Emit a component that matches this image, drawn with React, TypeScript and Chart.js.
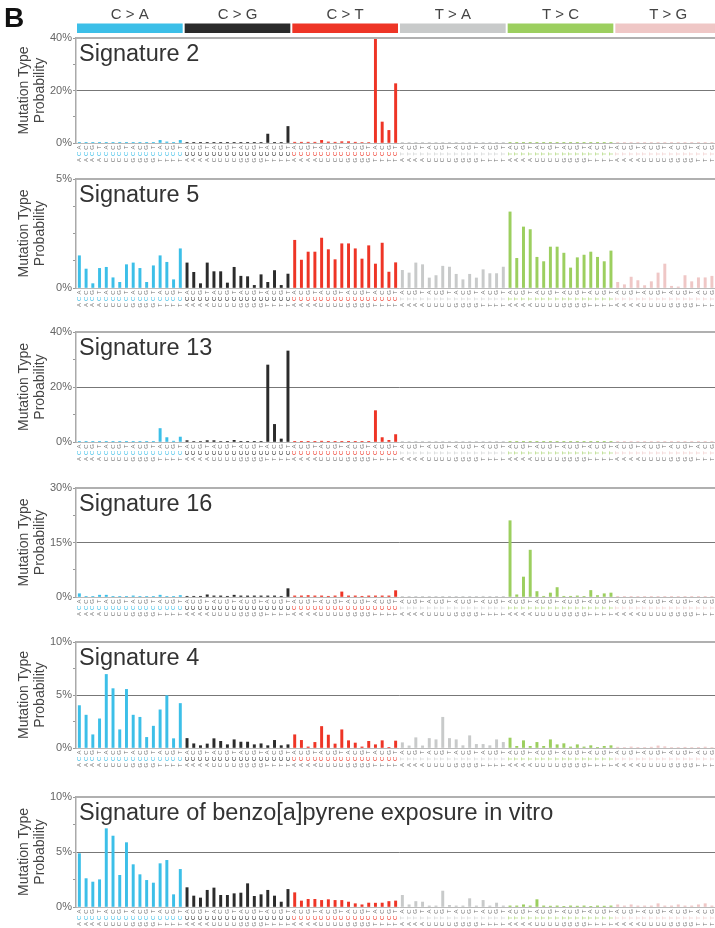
import React, { useEffect, useRef } from 'react';
import { Chart, registerables } from 'chart.js';
Chart.register(...registerables);

const FONT = '"Liberation Sans", Arial, Helvetica, sans-serif';

// Mutation types (categories of the 96-channel profile)
const MUT_TYPES = ['C > A', 'C > G', 'C > T', 'T > A', 'T > C', 'T > G'];
const REF_BASES = ['C', 'C', 'C', 'T', 'T', 'T'];
const TYPE_COLORS = ['#3cbfe8', '#2b2b2b', '#ee3526', '#c8caca', '#9ccf5f', '#efc7c6'];
const FLANK_5 = ['A', 'A', 'A', 'A', 'C', 'C', 'C', 'C', 'G', 'G', 'G', 'G', 'T', 'T', 'T', 'T'];
const FLANK_3 = ['A', 'C', 'G', 'T', 'A', 'C', 'G', 'T', 'A', 'C', 'G', 'T', 'A', 'C', 'G', 'T'];

const CONTEXTS: string[] = [];
REF_BASES.forEach((r) => FLANK_5.forEach((f5, k) => CONTEXTS.push(f5 + r + FLANK_3[k])));
const BAR_COLORS = CONTEXTS.map((_, i) => TYPE_COLORS[Math.floor(i / 16)]);

// Values in percent, 96 channels each (C>A, C>G, C>T, T>A, T>C, T>G)
const sig2 = [
  0.1, 0.05, 0.05, 0.05, 0.05, 0.05, 0.05, 0.05, 0.05, 0.05, 0.05, 0.05, 1.0, 0.4, 0.1, 1.0,
  0.05, 0.05, 0.05, 0.05, 0.05, 0.05, 0.05, 0.05, 0.05, 0.05, 0.05, 0.05, 3.4, 0.1, 0.1, 6.3,
  0.3, 0.3, 0.3, 0.3, 1.0, 0.4, 0.3, 0.5, 0.5, 0.3, 0.2, 0.2, 40, 8.0, 4.8, 22.6,
  0.02, 0.02, 0.02, 0.02, 0.02, 0.02, 0.02, 0.02, 0.02, 0.02, 0.02, 0.02, 0.02, 0.02, 0.02, 0.02,
  0.02, 0.02, 0.02, 0.02, 0.02, 0.02, 0.02, 0.02, 0.02, 0.02, 0.02, 0.02, 0.02, 0.02, 0.02, 0.02,
  0.02, 0.02, 0.02, 0.02, 0.02, 0.02, 0.02, 0.02, 0.02, 0.02, 0.02, 0.02, 0.02, 0.02, 0.02, 0.02,
];
const sig5 = [
  1.48, 0.87, 0.2, 0.9, 0.95, 0.47, 0.26, 1.07, 1.15, 0.9, 0.26, 1.02, 1.48, 1.18, 0.38, 1.8,
  1.15, 0.72, 0.2, 1.15, 0.75, 0.75, 0.23, 0.95, 0.54, 0.52, 0.12, 0.61, 0.26, 0.8, 0.12, 0.64,
  2.19, 1.28, 1.65, 1.65, 2.29, 1.76, 1.3, 2.03, 2.03, 1.8, 1.33, 1.94, 1.1, 2.06, 0.73, 1.16,
  0.81, 0.69, 1.15, 1.07, 0.46, 0.57, 1.0, 0.96, 0.63, 0.38, 0.63, 0.46, 0.84, 0.66, 0.66, 0.96,
  3.49, 1.36, 2.8, 2.68, 1.41, 1.21, 1.88, 1.88, 1.6, 0.92, 1.39, 1.51, 1.65, 1.41, 1.21, 1.7,
  0.26, 0.15, 0.5, 0.34, 0.11, 0.29, 0.69, 1.1, 0.08, 0.05, 0.57, 0.29, 0.47, 0.47, 0.54, 0.5,
];
const sig13 = [
  0.05, 0.05, 0.05, 0.05, 0.05, 0.05, 0.05, 0.05, 0.05, 0.05, 0.05, 0.05, 4.9, 1.6, 0.3, 1.8,
  0.5, 0.2, 0.2, 0.5, 0.5, 0.2, 0.1, 0.6, 0.1, 0.1, 0.1, 0.1, 28, 6.4, 1.1, 33.1,
  0.1, 0.1, 0.1, 0.1, 0.3, 0.1, 0.1, 0.1, 0.1, 0.1, 0.1, 0.1, 11.4, 1.6, 0.6, 2.7,
  0.02, 0.02, 0.02, 0.02, 0.02, 0.02, 0.02, 0.02, 0.02, 0.02, 0.02, 0.02, 0.02, 0.02, 0.02, 0.02,
  0.02, 0.02, 0.02, 0.02, 0.02, 0.02, 0.02, 0.02, 0.02, 0.02, 0.02, 0.02, 0.02, 0.02, 0.02, 0.02,
  0.02, 0.02, 0.02, 0.02, 0.02, 0.02, 0.02, 0.02, 0.02, 0.02, 0.02, 0.02, 0.02, 0.02, 0.02, 0.02,
];
const sig16 = [
  0.9, 0.1, 0.1, 0.5, 0.5, 0.1, 0.1, 0.1, 0.3, 0.1, 0.1, 0.1, 0.5, 0.1, 0.1, 0.4,
  0.2, 0.2, 0.2, 0.6, 0.3, 0.3, 0.2, 0.5, 0.3, 0.3, 0.3, 0.3, 0.3, 0.3, 0.2, 2.3,
  0.3, 0.3, 0.4, 0.3, 0.3, 0.2, 0.3, 1.4, 0.3, 0.3, 0.2, 0.3, 0.3, 0.3, 0.3, 1.75,
  0.1, 0.05, 0.05, 0.05, 0.05, 0.05, 0.05, 0.05, 0.05, 0.05, 0.05, 0.05, 0.2, 0.05, 0.05, 0.05,
  21, 0.6, 5.5, 12.9, 1.5, 0.2, 1.1, 2.6, 0.2, 0.2, 0.3, 0.1, 1.8, 0.4, 0.9, 1.1,
  0.08, 0.05, 0.06, 0.05, 0.05, 0.07, 0.05, 0.06, 0.05, 0.05, 0.06, 0.05, 0.05, 0.06, 0.05, 0.05,
];
const sig4 = [
  4.0, 3.1, 1.25, 2.75, 6.94, 5.6, 1.72, 5.53, 3.1, 2.9, 1.0, 2.06, 3.6, 4.94, 0.88, 4.2,
  0.9, 0.4, 0.22, 0.38, 0.88, 0.63, 0.31, 0.78, 0.56, 0.56, 0.31, 0.4, 0.22, 0.72, 0.22, 0.31,
  1.25, 0.72, 0.1, 0.53, 2.03, 1.22, 0.38, 1.72, 0.69, 0.47, 0.1, 0.63, 0.31, 0.69, 0.06, 0.66,
  0.5, 0.2, 0.97, 0.2, 0.9, 0.78, 2.9, 0.9, 0.78, 0.22, 1.16, 0.34, 0.34, 0.22, 0.78, 0.53,
  0.94, 0.16, 0.69, 0.16, 0.53, 0.16, 0.78, 0.31, 0.41, 0.1, 0.31, 0.1, 0.22, 0.06, 0.16, 0.22,
  0.08, 0.05, 0.1, 0.06, 0.04, 0.08, 0.2, 0.12, 0.05, 0.04, 0.07, 0.05, 0.06, 0.09, 0.05, 0.1,
];
const sigBaP = [
  4.85, 2.58, 2.27, 2.48, 7.12, 6.45, 2.88, 5.85, 3.85, 2.94, 2.42, 2.18, 3.94, 4.24, 1.12, 3.42,
  1.76, 1.0, 0.82, 1.52, 1.73, 1.06, 1.06, 1.21, 1.27, 2.12, 0.97, 1.12, 1.52, 1.0, 0.45, 1.6,
  1.3, 0.55, 0.7, 0.7, 0.6, 0.67, 0.6, 0.6, 0.45, 0.3, 0.2, 0.36, 0.35, 0.36, 0.5, 0.55,
  1.06, 0.2, 0.5, 0.45, 0.1, 0.1, 1.45, 0.15, 0.1, 0.1, 0.76, 0.1, 0.6, 0.1, 0.36, 0.1,
  0.1, 0.1, 0.2, 0.1, 0.67, 0.1, 0.08, 0.1, 0.06, 0.1, 0.08, 0.1, 0.06, 0.1, 0.08, 0.1,
  0.2, 0.1, 0.2, 0.1, 0.1, 0.1, 0.3, 0.1, 0.1, 0.2, 0.1, 0.1, 0.2, 0.3, 0.1, 0.2,
];

const PANEL_TITLES = ['Signature 2', 'Signature 5', 'Signature 13', 'Signature 16', 'Signature 4', 'Signature of benzo[a]pyrene exposure in vitro'];
const PANEL_MAX = [40, 5, 40, 30, 10, 10];
const PANEL_MID = [true, false, true, true, true, true];
const PANEL_DATA = [sig2, sig5, sig13, sig16, sig4, sigBaP];
// plot top / bottom on page
const PANEL_TOP = [38, 179, 332, 488, 642, 797];
const PANEL_BOTTOM = [143, 288, 442, 597, 748, 907];

const X_AXIS_H = 22;

function Panel({ idx }: { idx: number }) {
  const ref = useRef<HTMLCanvasElement>(null);
  const header = idx === 0;
  const plotTop = PANEL_TOP[idx];
  const divTop = header ? 0 : plotTop - 10;
  const padTop = plotTop - divTop;
  const height = PANEL_BOTTOM[idx] - divTop + X_AXIS_H;

  useEffect(() => {
    const max = PANEL_MAX[idx];
    const mid = PANEL_MID[idx];
    const title = PANEL_TITLES[idx];
    const deco = {
      id: 'deco' + idx,
      afterDraw(chart: any) {
        const { ctx, chartArea: a } = chart;
        const x = chart.scales.x;
        ctx.save();
        // top frame line
        ctx.strokeStyle = '#b0b0b0';
        ctx.lineWidth = 2;
        ctx.beginPath();
        ctx.moveTo(a.left, a.top);
        ctx.lineTo(a.right, a.top);
        ctx.stroke();
        // panel title
        ctx.fillStyle = '#333';
        ctx.font = `23.5px ${FONT}`;
        ctx.textAlign = 'left';
        ctx.textBaseline = 'alphabetic';
        ctx.fillText(title, a.left + 3, a.top + 22.5);
        // trinucleotide context labels
        ctx.font = `6px ${FONT}`;
        ctx.textAlign = 'center';
        ctx.textBaseline = 'middle';
        CONTEXTS.forEach((c, i) => {
          const px = x.getPixelForValue(i);
          for (let k = 0; k < 3; k++) {
            ctx.fillStyle = k === 1 ? TYPE_COLORS[Math.floor(i / 16)] : '#777';
            const py = a.bottom + 4.5 + (2 - k) * 6.3;
            ctx.save();
            ctx.translate(px, py);
            ctx.rotate(-Math.PI / 2);
            ctx.fillText(c[k], 0, 0);
            ctx.restore();
          }
        });
        if (header) {
          const w = (a.right - a.left) / 96;
          MUT_TYPES.forEach((m, g) => {
            const x0 = x.getPixelForValue(g * 16) - w / 2;
            const x1 = x.getPixelForValue(g * 16 + 15) + w / 2;
            ctx.fillStyle = TYPE_COLORS[g];
            ctx.fillRect(x0 + 1, 23.5, x1 - x0 - 2, 9.5);
            ctx.fillStyle = '#444';
            ctx.font = `15px ${FONT}`;
            ctx.textAlign = 'center';
            ctx.textBaseline = 'middle';
            ctx.fillText(m, (x0 + x1) / 2, 15);
          });
          ctx.fillStyle = '#111';
          ctx.font = `bold 28px ${FONT}`;
          ctx.textAlign = 'left';
          ctx.textBaseline = 'alphabetic';
          ctx.fillText('B', 4, 27);
        }
        ctx.restore();
      },
    };
    const isLabeled = (v: number) =>
      Math.abs(v) < 1e-6 || Math.abs(v - max) < 1e-6 || (mid && Math.abs(v - max / 2) < 1e-6);
    const chart = new Chart(ref.current as HTMLCanvasElement, {
      type: 'bar',
      data: {
        labels: CONTEXTS,
        datasets: [
          {
            data: PANEL_DATA[idx],
            backgroundColor: BAR_COLORS,
            barThickness: 2.3,
            categoryPercentage: 1,
            barPercentage: 1,
          },
        ],
      },
      options: {
        responsive: true,
        maintainAspectRatio: false,
        animation: false,
        layout: { padding: { top: padTop, left: 0, right: 0, bottom: 0 } },
        plugins: { legend: { display: false }, tooltip: { enabled: false }, title: { display: false } },
        scales: {
          x: {
            offset: true,
            grid: { display: false, drawTicks: false },
            ticks: { display: false },
            border: { display: true, color: '#bbb', width: 1 },
            afterFit: (s: any) => {
              s.height = X_AXIS_H;
            },
          },
          y: {
            min: 0,
            max,
            afterFit: (s: any) => {
              s.width = 76;
            },
            ticks: {
              stepSize: max / 4,
              autoSkip: false,
              padding: 1,
              color: '#666',
              font: { size: 11, family: FONT },
              callback: (v: any) => (isLabeled(Number(v)) ? `${v}%` : ''),
            },
            grid: {
              color: (c: any) => (mid && Math.abs(c.tick.value - max / 2) < 1e-6 ? '#777' : 'rgba(0,0,0,0)'),
              tickColor: '#999',
              tickLength: 3,
              drawTicks: true,
            },
            border: { display: true, color: '#aaa', width: 1.5 },
            title: {
              display: true,
              text: ['Mutation Type', 'Probability'],
              color: '#444',
              font: { size: 14, family: FONT, lineHeight: 1.15 },
              padding: { top: 16, bottom: 0 },
            },
          },
        },
      },
      plugins: [deco],
    } as any);
    return () => chart.destroy();
  }, []);

  return (
    <div style={{ position: 'absolute', left: 0, top: divTop, width: 722, height }}>
      <canvas ref={ref} />
    </div>
  );
}

export default function App() {
  return (
    <div
      style={{
        position: 'absolute',
        left: 0,
        top: 0,
        width: 715,
        height: 928,
        overflow: 'hidden',
        background: '#fff',
      }}
    >
      {PANEL_TITLES.map((_, i) => (
        <Panel key={i} idx={i} />
      ))}
    </div>
  );
}
